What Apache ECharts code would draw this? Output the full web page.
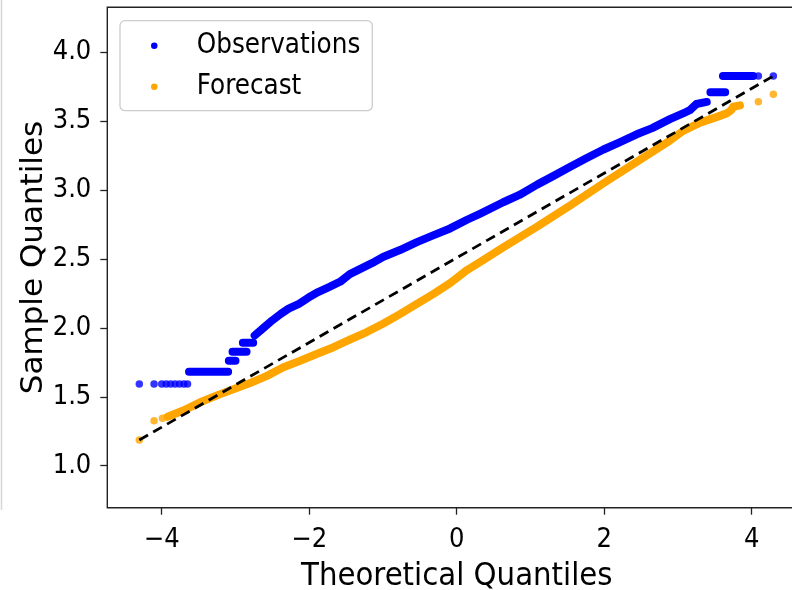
<!DOCTYPE html>
<html><head><meta charset="utf-8">
<script src="https://cdn.jsdelivr.net/npm/echarts@6/dist/echarts.min.js"></script>
<style>html,body{margin:0;padding:0;background:#fff}#c{width:792px;height:590px}</style>
</head><body><div id="c"></div>
<script>
// ---- Observations (blue) ----
// isolated points: theoretical quantile / sample quantile
const obsDotsTheo   = [-4.304, -4.104, -4.00, -3.94, -3.88, -3.82, -3.76, -3.70, -3.65, 4.09, 4.293];
const obsDotsSample = [1.593, 1.593, 1.593, 1.593, 1.593, 1.593, 1.593, 1.593, 1.593, 3.828, 3.828];
// runs of tied values: start / end theoretical quantile and value
const obsRunStart = [-3.63, -3.09, -3.04, -2.90, 3.44, 3.61];
const obsRunEnd   = [-3.10, -3.00, -2.85, -2.76, 3.64, 4.02];
const obsRunValue = [1.682, 1.762, 1.827, 1.893, 3.710, 3.828];
// dense body
const obsBodyTheo   = [-2.74, -2.62, -2.50, -2.39, -2.28, -2.14, -2.01, -1.88, -1.74, -1.58, -1.45, -1.30, -1.15, -1.00, -0.77, -0.54, -0.32, -0.09, 0.14, 0.32, 0.63, 0.85, 1.09, 1.30, 1.54, 1.75, 1.99, 2.20, 2.44, 2.65, 2.89, 3.10, 3.16, 3.25, 3.39];
const obsBodySample = [1.945, 2.000, 2.055, 2.100, 2.140, 2.175, 2.220, 2.260, 2.295, 2.335, 2.390, 2.430, 2.470, 2.515, 2.565, 2.623, 2.672, 2.722, 2.785, 2.830, 2.912, 2.965, 3.040, 3.100, 3.170, 3.230, 3.295, 3.345, 3.405, 3.450, 3.515, 3.565, 3.580, 3.625, 3.640];

// ---- Forecast (orange) ----
const fcDotsTheo   = [-4.304, -4.104, -3.99, 4.09, 4.293];
const fcDotsSample = [1.186, 1.327, 1.344, 3.642, 3.695];
const fcBodyTheo   = [-3.92, -3.71, -3.48, -3.25, -3.03, -2.80, -2.58, -2.35, -2.13, -1.90, -1.67, -1.45, -1.22, -1.00, -0.77, -0.54, -0.32, -0.09, 0.14, 0.32, 0.63, 1.09, 1.54, 1.99, 2.44, 2.89, 3.07, 3.30, 3.52, 3.66, 3.72, 3.75, 3.84];
const fcBodySample = [1.355, 1.400, 1.460, 1.510, 1.555, 1.600, 1.650, 1.715, 1.760, 1.810, 1.860, 1.915, 1.970, 2.030, 2.100, 2.175, 2.245, 2.325, 2.420, 2.480, 2.585, 2.735, 2.890, 3.050, 3.205, 3.360, 3.430, 3.490, 3.530, 3.557, 3.580, 3.605, 3.615];

// ---- reference line ----
const refTheo   = [-4.304, 4.293];
const refSample = [1.186, 3.828];

// ---- axes ----
const xTicks = [-4, -2, 0, 2, 4];
const yTicks = [1.0, 1.5, 2.0, 2.5, 3.0, 3.5, 4.0];
const xRange = [-4.738, 4.74];
const yRange = [0.695, 4.327];

const BLUE = '#0000ff', ORANGE = '#ffa500';
const FONT_C = "'DejaVu Sans Condensed', 'DejaVu Sans', sans-serif";
const FONT = "'DejaVu Sans', sans-serif";

function pairs(xs, ys) { return xs.map((x, i) => [x, ys[i]]); }
function runs(s, e, v) {
  const out = [];
  s.forEach((a, i) => { out.push([a, v[i]], [e[i], v[i]], ['-', '-']); });
  return out;
}

const chart = echarts.init(document.getElementById('c'), null, {renderer: 'canvas'});
const bandStyle = c => ({color: c, width: 8, cap: 'round', join: 'round'});

chart.setOption({
  animation: false,
  backgroundColor: '#fff',
  grid: {left: 107.3, top: 7.3, width: 699, height: 500.4, show: true, outerBoundsMode: 'none', containLabel: false,
         borderColor: '#222', borderWidth: 1.4, backgroundColor: 'transparent'},
  xAxis: {
    type: 'value', min: xRange[0], max: xRange[1],
    axisLine: {show: false, onZero: false}, splitLine: {show: false},
    axisTick: {show: true, length: 7, customValues: xTicks, lineStyle: {color: '#222', width: 1.3}},
    axisLabel: {customValues: xTicks, margin: 19, fontSize: 27, fontFamily: FONT_C, color: '#000',
      formatter: v => v < 0 ? '\u2212' + Math.abs(v) : String(v)},
    name: 'Theoretical Quantiles', nameLocation: 'middle', nameGap: 52, nameMoveOverlap: false,
    nameTextStyle: {fontSize: 32.5, fontFamily: FONT_C, color: '#000'}
  },
  yAxis: {
    type: 'value', min: yRange[0], max: yRange[1],
    axisLine: {show: false, onZero: false}, splitLine: {show: false},
    axisTick: {show: true, length: 7, customValues: yTicks, lineStyle: {color: '#222', width: 1.3}},
    axisLabel: {customValues: yTicks, margin: 16, fontSize: 27, fontFamily: FONT_C, color: '#000',
      formatter: v => v.toFixed(1)},
    name: 'Sample Quantiles', nameLocation: 'middle', nameGap: 58, nameMoveOverlap: false,
    nameTextStyle: {fontSize: 31, fontFamily: FONT, color: '#000'}
  },
  legend: {
    orient: 'vertical', left: 120, top: 20.7, padding: [10, 12, 9, 31], itemGap: 11,
    itemWidth: 75, itemHeight: 6.5,
    data: [{name: 'Observations', icon: 'circle'}, {name: 'Forecast', icon: 'circle'}],
    textStyle: {fontFamily: FONT_C, fontSize: 27.5, color: '#000', lineHeight: 30},
    borderColor: '#cccccc', borderWidth: 1.3, borderRadius: 5, backgroundColor: 'rgba(255,255,255,0.85)'
  },
  graphic: [{type: 'line', shape: {x1: 1.5, y1: 0, x2: 1.5, y2: 510}, style: {stroke: '#d6d6d6', lineWidth: 1.5}}],
  series: [
    {name: 'Observations', type: 'line', data: runs(obsRunStart, obsRunEnd, obsRunValue).concat(pairs(obsBodyTheo, obsBodySample)),
     showSymbol: false, connectNulls: false, lineStyle: bandStyle(BLUE), itemStyle: {color: BLUE}, z: 2, silent: true},
    {name: 'Observations', type: 'scatter', data: pairs(obsDotsTheo, obsDotsSample), symbolSize: 7.5,
     itemStyle: {color: BLUE}, z: 2, silent: true},
    {name: 'Forecast', type: 'line', data: pairs(fcBodyTheo, fcBodySample),
     showSymbol: false, lineStyle: bandStyle(ORANGE), itemStyle: {color: ORANGE}, z: 3, silent: true},
    {name: 'Forecast', type: 'scatter', data: pairs(fcDotsTheo, fcDotsSample), symbolSize: 7.5,
     itemStyle: {color: ORANGE}, z: 3, silent: true},
    {name: 'ref', type: 'line', data: pairs(refTheo, refSample), showSymbol: false,
     lineStyle: {color: '#000', width: 2.8, type: [10, 6]}, itemStyle: {color: '#000'}, z: 5, silent: true}
  ]
});
</script></body></html>
